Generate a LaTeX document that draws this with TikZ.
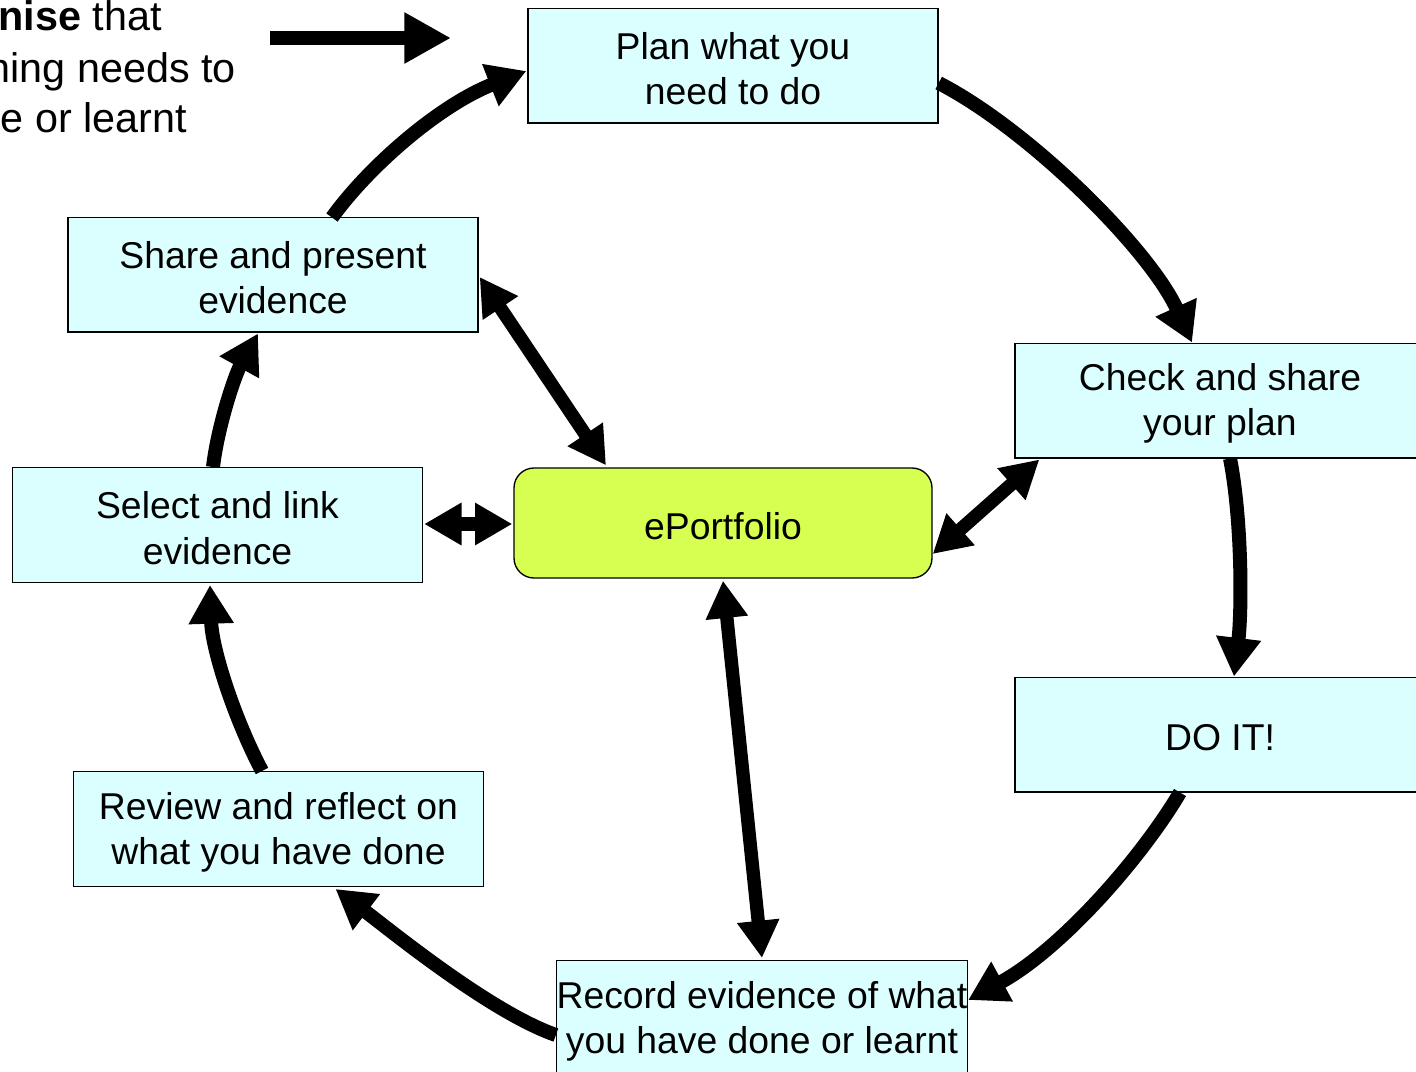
\documentclass[tikz,border=0pt]{standalone}
\usepackage{fontspec}
\setmainfont{Liberation Sans}
\usetikzlibrary{arrows.meta,calc}
\definecolor{boxcyan}{RGB}{219,255,255}
\definecolor{portgreen}{RGB}{214,255,82}
\newcommand\boxlift{\rule{0pt}{25pt}}
\tikzset{
  stepbox/.style={draw=black, line width=1pt, fill=boxcyan, rectangle,
    minimum width=307.5pt, minimum height=86pt, inner sep=0pt, align=center,
    font=\fontsize{28}{34}\selectfont},
  portbox/.style={draw=black, line width=1pt, fill=portgreen, rounded corners=15pt,
    minimum width=313.5pt, minimum height=82.5pt, inner sep=0pt, align=center,
    font=\fontsize{28}{34}\selectfont},
  sidetext/.style={inner sep=0pt, font=\fontsize{31}{38}\selectfont},
  flow/.style={line width=10.5pt, -{Triangle[length=29pt,width=32pt]}},
  twoway/.style={line width=10pt, {Triangle[length=28pt,width=30pt]}-{Triangle[length=28pt,width=30pt]}},
  bigarrow/.style={line width=10.5pt, -{Triangle[length=35pt,width=36pt]}}
}
\begin{document}
\begin{tikzpicture}[x=0.75pt,y=-0.75pt]
\clip (0,0) rectangle (1416,1071);
\fill[white] (0,0) rectangle (1416,1071);

% side text (cut off at left edge)
\node[sidetext, anchor=base east] (t1) at (162,30) {\textbf{nise} that};
\node[sidetext, anchor=base east] (t2) at (236,82) {hing needs to};
\node[sidetext, anchor=base east] (t3) at (187,132) {e or learnt};

% boxes
\node[stepbox] (plan)   at (733,65.5)   {\boxlift Plan what you\\need to do};
\node[stepbox] (check)  at (1220,400.5) {\boxlift Check and share\\your plan};
\node[stepbox] (doit)   at (1220,734.5) {\boxlift DO IT!};
\node[stepbox] (record) at (762,1018)   {\boxlift Record evidence of what\\you have done or learnt};
\node[stepbox] (review) at (278.5,829)  {\boxlift Review and reflect on\\what you have done};
\node[stepbox] (select) at (217.5,525)  {\boxlift Select and link\\evidence};
\node[stepbox] (share)  at (273,274.5)  {\boxlift Share and present\\evidence};
\node[portbox] (eport)  at (723,523)    {\boxlift ePortfolio};

% top arrow
\coordinate (ta) at (270,38);
\coordinate (tb) at (451,38);
\draw[bigarrow] (ta) -- (tb);

% cycle
\draw[flow] ($(plan.east)+(0,17.5)$) .. controls (1030,130) and (1150,250) .. ($(check.north)+(-28,0)$);
\draw[flow] ($(check.south)+(10,0)$) .. controls (1242,520) and (1242,610) .. ($(doit.north)+(14,0)$);
\draw[flow] ($(doit.south)+(-40,0)$) .. controls (1140,860) and (1060,950) .. ($(record.east)+(0,-18)$);
\draw[flow] ($(record.west)+(0,17)$) .. controls (490,1012) and (390,930) .. ($(review.south)+(57,2)$);
\draw[flow] ($(review.north)+(-16.5,0)$) .. controls (235,720) and (212,650) .. ($(select.south)+(-7.5,2)$);
\draw[flow] ($(select.north)+(-4.5,0)$) .. controls (218,425) and (235,375) .. ($(share.south)+(-15,1)$);
\draw[flow] ($(share.north)+(59,1)$) .. controls (370,165) and (440,105) .. ($(plan.west)+(-1,5.5)$);

% two-way links with ePortfolio
\draw[twoway] ($(share.east)+(1,2.5)$) -- ($(eport.north)+(-117,-2)$);
\draw[twoway] ($(select.east)+(1,-1)$) -- ($(eport.west)+(-1,1)$);
\draw[twoway] ($(check.south west)+(25,1)$) -- ($(eport.east)+(0,31)$);
\draw[twoway] ($(eport.south)+(0,2)$) -- ($(record.north)+(0,-2)$);
\end{tikzpicture}
\end{document}
